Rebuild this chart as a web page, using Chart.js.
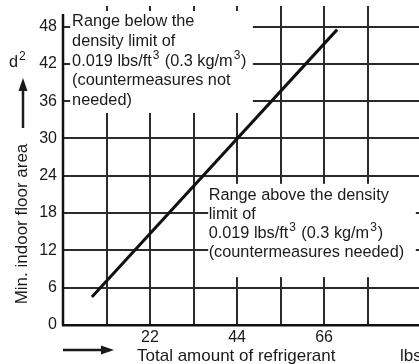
<!DOCTYPE html>
<html><head><meta charset="utf-8">
<script src="https://cdn.jsdelivr.net/npm/chart.js@4"></script>
<style>html,body{margin:0;padding:0;background:#fff;overflow:hidden}</style></head>
<body><canvas id="c" width="419" height="364"></canvas>
<script>
const yTicks = [0, 6, 12, 18, 24, 30, 36, 42, 48];
const xGrid = [11, 22, 33, 44, 55, 66, 77];
const xTickLabels = ['', '22', '', '44', '', '66', ''];
const lineX = [7.3, 69.3];
const lineY = [4.5, 47.5];
const noteBelow = ['Range below the', 'density limit of', '0.019 lbs/ft³ (0.3 kg/m³)', '(countermeasures not', 'needed)'];
const noteAbove = ['Range above the density', 'limit of', '0.019 lbs/ft³ (0.3 kg/m³)', '(countermeasures needed)'];
const yTitle = 'Min. indoor floor area';
const yUnit = 'd²';
const xTitle = 'Total amount of refrigerant';
const xUnit = 'lbs';

const FONT = '"Liberation Sans", Arial, sans-serif';
const INK = '#1a1a1a';
const GRID = '#2b2b2b';

// white panels behind the notes, in data units
const panels = [
  {x0: 1.8, x1: 48.0, y0: 34.1, y1: 50.5},
  {x0: 36.7, x1: 89.2, y0: 7.7, y1: 22.7}
];

const SUP = {'²': '2', '³': '3'};
// draws a string, rendering ² and ³ as raised smaller digits
function drawRich(ctx, str, x, y, size) {
  let cx = x;
  for (const ch of str) {
    if (SUP[ch]) {
      ctx.font = Math.round(size * 0.74) + 'px ' + FONT;
      cx += 1;
      ctx.fillText(SUP[ch], cx, y - size * 0.4);
      cx += ctx.measureText(SUP[ch]).width + 0.8;
    } else {
      ctx.font = size + 'px ' + FONT;
      ctx.fillText(ch, cx, y);
      cx += ctx.measureText(ch).width;
    }
  }
}

function arrowHead(ctx, tx, ty, dir) {
  ctx.beginPath();
  if (dir === 'up') { ctx.moveTo(tx, ty); ctx.lineTo(tx - 4.5, ty + 13); ctx.lineTo(tx + 4.5, ty + 13); }
  else { ctx.moveTo(tx, ty); ctx.lineTo(tx - 13, ty - 4.5); ctx.lineTo(tx - 13, ty + 4.5); }
  ctx.closePath(); ctx.fill();
}

const deco = {
  id: 'deco',
  beforeDatasetsDraw(chart) {
    const {ctx, scales: {x, y}} = chart;
    ctx.save();
    ctx.fillStyle = '#fff';
    panels.forEach(p => {
      const l = x.getPixelForValue(p.x0), r = x.getPixelForValue(p.x1);
      const t = y.getPixelForValue(p.y1), b = y.getPixelForValue(p.y0);
      ctx.fillRect(l, t, r - l, b - t);
    });
    ctx.strokeStyle = '#111';
    ctx.lineWidth = 2.5;
    ctx.beginPath();
    const x0 = x.getPixelForValue(0);
    ctx.moveTo(x0, y.getPixelForValue(0) + 1);
    ctx.lineTo(x0, y.getPixelForValue(50));
    ctx.stroke();
    ctx.restore();
  },
  afterDatasetsDraw(chart) {
    const {ctx, scales: {x, y}} = chart;
    ctx.save();
    ctx.fillStyle = INK;
    ctx.strokeStyle = INK;
    ctx.textAlign = 'left';
    ctx.textBaseline = 'alphabetic';
    const p1l = x.getPixelForValue(panels[0].x0), p1t = y.getPixelForValue(panels[0].y1);
    noteBelow.forEach((s, i) => drawRich(ctx, s, p1l + 2, p1t + 15.5 + i * 19.6, 16.3));
    const p2l = x.getPixelForValue(panels[1].x0), p2t = y.getPixelForValue(panels[1].y1);
    noteAbove.forEach((s, i) => drawRich(ctx, s, p2l + 0.5, p2t + 16 + i * 19, 16.3));

    // y unit + arrow
    drawRich(ctx, yUnit, 9, 67, 16.3);
    ctx.lineWidth = 2.5;
    ctx.beginPath(); ctx.moveTo(23, 128); ctx.lineTo(23, 88); ctx.stroke();
    arrowHead(ctx, 23, 78, 'up');
    // y title rotated
    ctx.save();
    ctx.translate(27, 224);
    ctx.rotate(-Math.PI / 2);
    ctx.textAlign = 'center';
    ctx.font = '17px ' + FONT;
    ctx.fillText(yTitle, 0, 0);
    ctx.restore();
    // x arrow + title + unit
    ctx.beginPath(); ctx.moveTo(63, 350); ctx.lineTo(102, 350); ctx.stroke();
    arrowHead(ctx, 114, 350, 'right');
    ctx.font = '17px ' + FONT;
    ctx.fillText(xTitle, 137, 361);
    ctx.fillText(xUnit, 400, 361);
    ctx.restore();
  }
};

new Chart(document.getElementById('c'), {
  type: 'scatter',
  data: {
    datasets: [{
      data: lineX.map((v, i) => ({x: v, y: lineY[i]})),
      showLine: true,
      borderColor: '#111',
      borderWidth: 3,
      borderCapStyle: 'butt',
      pointRadius: 0,
      fill: false
    }]
  },
  options: {
    responsive: false,
    animation: false,
    devicePixelRatio: 1,
    layout: {padding: {top: 6, right: 0, bottom: 0, left: 0}},
    plugins: {legend: {display: false}, tooltip: {enabled: false}},
    scales: {
      x: {
        type: 'linear', min: 0, max: 90,
        afterBuildTicks: s => { s.ticks = xGrid.map(v => ({value: v})); },
        afterFit: s => { s.height = 39; s.paddingLeft = 0; s.paddingRight = 0; },
        ticks: {
          callback: (v, i) => xTickLabels[i],
          autoSkip: false, maxRotation: 0, padding: 3,
          color: INK, font: {family: FONT, size: 16}
        },
        grid: {color: GRID, lineWidth: 2, drawTicks: false},
        border: {color: '#111', width: 2.5}
      },
      y: {
        type: 'linear', min: 0, max: 51.3,
        afterBuildTicks: s => { s.ticks = yTicks.map(v => ({value: v})); },
        afterFit: s => { s.width = 63; s.paddingTop = 0; s.paddingBottom = 0; },
        ticks: {
          callback: v => String(v),
          padding: 6,
          color: INK, font: {family: FONT, size: 16}
        },
        grid: {color: GRID, lineWidth: 2, drawTicks: false},
        border: {display: false}
      }
    }
  },
  plugins: [deco]
});
</script>
</body></html>
